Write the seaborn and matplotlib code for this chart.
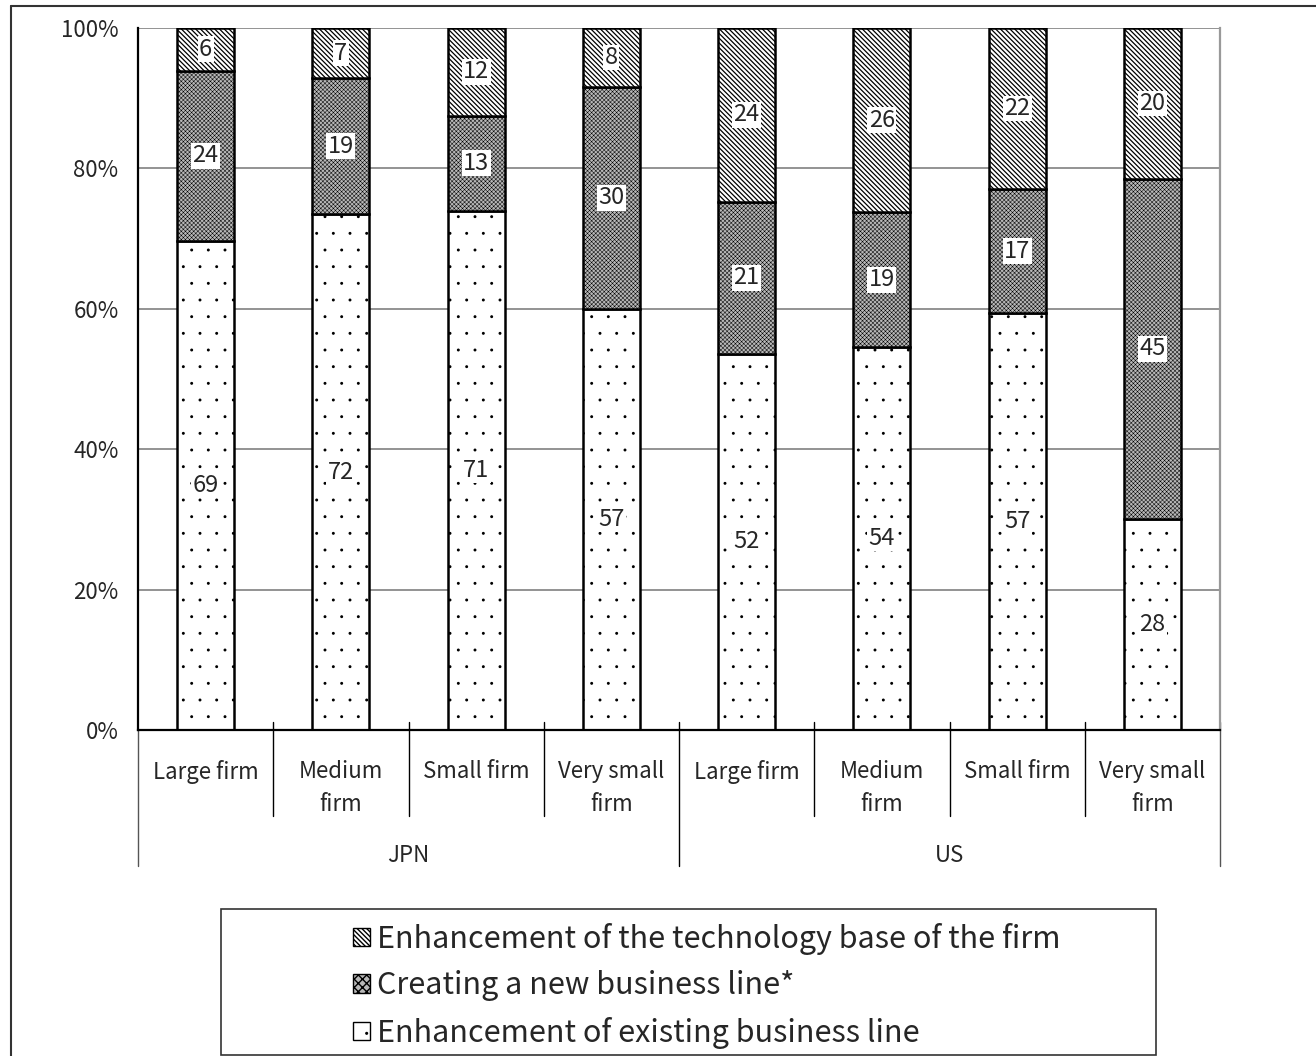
import numpy as np
import pandas as pd
import matplotlib.pyplot as plt
import matplotlib.hatch as mhatch
import matplotlib.transforms as mtransforms
from matplotlib.patches import Patch, Rectangle
from matplotlib.lines import Line2D
import seaborn as sb

countries = ['JPN', 'JPN', 'JPN', 'JPN', 'US', 'US', 'US', 'US']
firm_sizes = ['Large firm', 'Medium\nfirm', 'Small firm', 'Very small\nfirm',
              'Large firm', 'Medium\nfirm', 'Small firm', 'Very small\nfirm']
existing_line = [69, 72, 71, 57, 52, 54, 57, 28]
new_line = [24, 19, 13, 30, 21, 19, 17, 45]
tech_base = [6, 7, 12, 8, 24, 26, 22, 20]

legend_labels = ['Enhancement of the technology base of the firm',
                 'Creating a new business line*',
                 'Enhancement of existing business line']

HATCH_EXIST = '.'
HATCH_NEW = 'xxxxxxxx'
HATCH_TECH = '\\' * 7
NEW_COLOR = '#b8b8b8'

if __name__ == '__main__':
    sb.set_style('white')
    plt.rcParams['font.family'] = ['Noto Sans CJK JP', 'DejaVu Sans']
    plt.rcParams['hatch.color'] = 'black'
    # sitne tackice kao u originalu
    mhatch.SmallFilledCircles.size = 0.05

    df = pd.DataFrame({'country': countries, 'size': firm_sizes,
                       'existing': existing_line, 'new': new_line, 'tech': tech_base})
    df['key'] = df['country'] + ' ' + df['size']
    total = df['existing'] + df['new'] + df['tech']
    df['p_existing'] = df['existing'] / total
    df['p_new'] = df['new'] / total
    df['p_tech'] = df['tech'] / total

    fig = plt.figure(figsize=(13.16, 10.56), dpi=100)
    ax = fig.add_axes([138 / 1316, 1 - 730 / 1056, (1220 - 138) / 1316, (730 - 28) / 1056])

    # slojevi: (kolona, dno, boja, srafura)
    layers = [
        ('p_existing', None, 'white', HATCH_EXIST),
        ('p_new', df['p_existing'].values, NEW_COLOR, HATCH_NEW),
        ('p_tech', (df['p_existing'] + df['p_new']).values, 'white', HATCH_TECH),
    ]
    for col, bottom, fc, hatch in layers:
        kw = {} if bottom is None else {'bottom': bottom}
        n_before = len(ax.patches)
        sb.barplot(data=df, x='key', y=col, color=fc, saturation=1, errorbar=None,
                   width=0.42, edgecolor='black', linewidth=1.8, hatch=hatch, ax=ax, **kw)
        for p in ax.patches[n_before:]:
            p.set_facecolor(fc)
            if hasattr(p, 'set_hatch_linewidth'):
                p.set_hatch_linewidth(0.35 if col == 'p_new' else 0.9)

    # vrednosti u segmentima
    for i, row in df.iterrows():
        b = 0
        for val, col in [(row['existing'], 'p_existing'), (row['new'], 'p_new'), (row['tech'], 'p_tech')]:
            h = row[col]
            ax.text(i, b + h / 2, str(val), ha='center', va='center', fontsize=17,
                    bbox=dict(facecolor='white', edgecolor='none', pad=1))
            b += h

    ax.set_xlim(-0.5, 7.5)
    ax.set_ylim(0, 1)
    ax.set_yticks(np.arange(0, 1.01, 0.2))
    ax.set_yticklabels([f'{int(round(v * 100))}%' for v in np.arange(0, 1.01, 0.2)], fontsize=16)
    ax.tick_params(axis='y', length=0, pad=14)
    ax.set_xticks([])
    ax.set_xlabel('')
    ax.set_ylabel('')
    ax.yaxis.grid(True, color='#808080', linewidth=1.2)
    ax.set_axisbelow(True)
    ax.spines['top'].set_visible(False)
    ax.spines['left'].set_color('black')
    ax.spines['left'].set_linewidth(1.6)
    ax.spines['bottom'].set_color('black')
    ax.spines['bottom'].set_linewidth(1.6)
    ax.spines['right'].set_color('#999999')
    ax.spines['right'].set_linewidth(1.6)

    # kategorije ispod ose
    trans = mtransforms.blended_transform_factory(ax.transData, ax.transAxes)
    axh = 702.0
    for i, lab in enumerate(firm_sizes):
        ax.text(i, -(760 - 730) / axh, lab, transform=trans, ha='center', va='top',
                fontsize=16, linespacing=1.55)
    for xb in [0.5, 1.5, 2.5, 4.5, 5.5, 6.5]:
        ax.add_line(Line2D([xb, xb], [8 / axh, -(816 - 730) / axh], transform=trans,
                           color='black', lw=1, clip_on=False))
    for xb in [-0.5, 3.5, 7.5]:
        ax.add_line(Line2D([xb, xb], [8 / axh if xb > 0 else 0, -(866 - 730) / axh], transform=trans,
                           color='#555555' if xb != 3.5 else 'black', lw=1, clip_on=False))
    ax.text(1.5, -(855 - 730) / axh, 'JPN', transform=trans, ha='center', va='center', fontsize=16)
    ax.text(5.5, -(855 - 730) / axh, 'US', transform=trans, ha='center', va='center', fontsize=16)

    # legenda
    handles = [Patch(facecolor='white', edgecolor='black', hatch=HATCH_TECH),
               Patch(facecolor=NEW_COLOR, edgecolor='black', hatch='xxxx'),
               Patch(facecolor='white', edgecolor='black', hatch=HATCH_EXIST)]
    fig.legend(handles, legend_labels, loc='upper left',
               bbox_to_anchor=(353 / 1316, 1 - 923 / 1056), frameon=False, fontsize=22,
               handlelength=0.55, handleheight=0.55, handletextpad=0.25, labelspacing=0.5,
               borderpad=0, borderaxespad=0)
    fig.add_artist(Rectangle((221 / 1316, 1 / 1056), (1156 - 221) / 1316, (1055 - 909) / 1056,
                             transform=fig.transFigure, fill=False, edgecolor='#333333', lw=1.2))

    # okvir slike (levo i gore)
    fig.add_artist(Line2D([11 / 1316, 11 / 1316], [0, 1 - 6 / 1056], transform=fig.transFigure,
                          color='#333333', lw=1.5))
    fig.add_artist(Line2D([11 / 1316, 1], [1 - 6 / 1056, 1 - 6 / 1056], transform=fig.transFigure,
                          color='#333333', lw=1.5))

    fig.savefig('out.png', dpi=100)
